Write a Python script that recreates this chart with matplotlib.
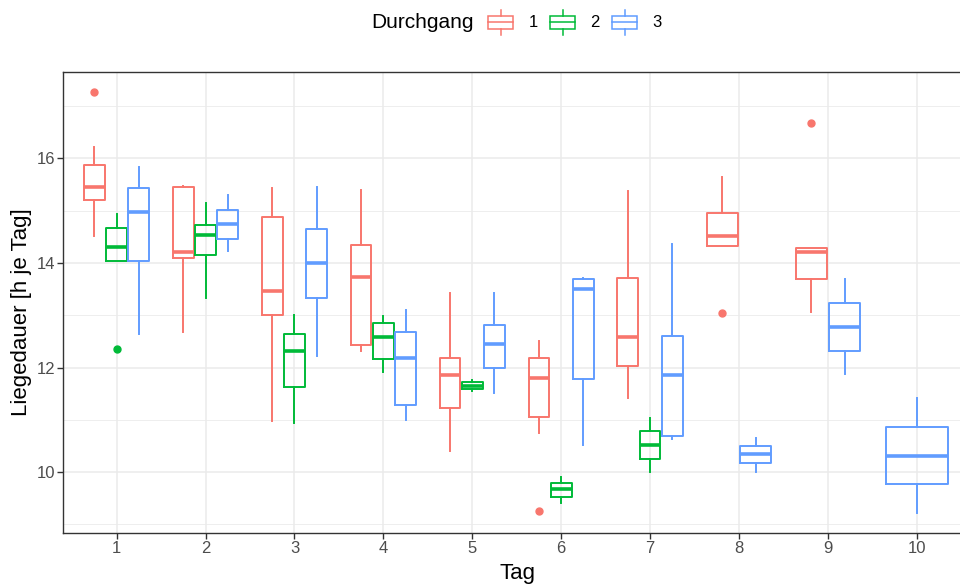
import matplotlib
matplotlib.use("Agg")
import matplotlib.pyplot as plt
from matplotlib.patches import Rectangle
from matplotlib.ticker import MultipleLocator

plt.rcParams['font.family'] = ['Liberation Sans', 'DejaVu Sans']

# ---------------- data ----------------
days = [1, 2, 3, 4, 5, 6, 7, 8, 9, 10]
groups = ['1', '2', '3']
colors = ['#F8766D', '#00BA38', '#619CFF']

g1_days = [1, 2, 3, 4, 5, 6, 7, 8, 9]
g1_whislo = [14.51, 12.67, 10.98, 12.32, 10.40, 10.74, 11.41, 14.33, 13.06]
g1_q1 = [15.20, 14.09, 13.00, 12.43, 11.23, 11.06, 12.03, 14.33, 13.69]
g1_med = [15.45, 14.21, 13.46, 13.74, 11.86, 11.79, 12.59, 14.51, 14.21]
g1_q3 = [15.88, 15.45, 14.88, 14.34, 12.19, 12.19, 13.72, 14.95, 14.29]
g1_whishi = [16.21, 15.48, 15.43, 15.39, 13.42, 12.51, 15.37, 15.64, 14.29]
g1_fliers = {1: [17.27], 6: [9.26], 8: [13.05], 9: [16.68]}

g2_days = [1, 2, 3, 4, 5, 6, 7]
g2_whislo = [14.03, 13.33, 10.93, 11.91, 11.56, 9.40, 10.00]
g2_q1 = [14.04, 14.15, 11.63, 12.17, 11.59, 9.53, 10.25]
g2_med = [14.30, 14.54, 12.32, 12.59, 11.65, 9.67, 10.52]
g2_q3 = [14.67, 14.72, 12.65, 12.86, 11.72, 9.80, 10.79]
g2_whishi = [14.93, 15.14, 13.00, 12.99, 11.76, 9.91, 11.04]
g2_fliers = {1: [12.36]}

g3_days = [1, 2, 3, 4, 5, 6, 7, 8, 9, 10]
g3_whislo = [12.65, 14.23, 12.22, 11.00, 11.51, 10.52, 10.63, 10.01, 11.88, 9.22]
g3_q1 = [14.04, 14.46, 13.33, 11.28, 12.00, 11.78, 10.69, 10.17, 12.32, 9.77]
g3_med = [14.97, 14.74, 13.99, 12.19, 12.45, 13.50, 11.86, 10.34, 12.77, 10.31]
g3_q3 = [15.43, 15.01, 14.64, 12.67, 12.81, 13.69, 12.61, 10.50, 13.23, 10.87]
g3_whishi = [15.84, 15.29, 15.46, 13.10, 13.43, 13.72, 14.37, 10.66, 13.69, 11.41]
g3_fliers = {}

series = [
    (g1_days, g1_whislo, g1_q1, g1_med, g1_q3, g1_whishi, g1_fliers),
    (g2_days, g2_whislo, g2_q1, g2_med, g2_q3, g2_whishi, g2_fliers),
    (g3_days, g3_whislo, g3_q1, g3_med, g3_q3, g3_whishi, g3_fliers),
]

# ---------------- figure ----------------
W, H = 960, 584
fig = plt.figure(figsize=(W / 100, H / 100), dpi=100)
ax_left, ax_right_px, ax_top, ax_bot = 63.3, 63.3 + 10.2 * 88.9, 71.7, 533.3
ax = fig.add_axes([ax_left / W, (H - ax_bot) / H,
                   (ax_right_px - ax_left) / W, (ax_bot - ax_top) / H])

# presence of groups per day for dodging
present = {d: [gi for gi, s in enumerate(series) if d in s[0]] for d in days}

for gi, (gd, wlo, q1, med, q3, whi, fl) in enumerate(series):
    col = colors[gi]
    stats, pos, widths = [], [], []
    for k, d in enumerate(gd):
        n = len(present[d])
        idx = present[d].index(gi)
        off = (idx - (n - 1) / 2) * 0.75 / n
        pos.append(d + off)
        widths.append(0.7 / n)
        stats.append(dict(whislo=wlo[k], q1=q1[k], med=med[k], q3=q3[k],
                          whishi=whi[k], fliers=fl.get(d, [])))
    ax.bxp(stats, positions=pos, widths=widths, showcaps=False,
           boxprops=dict(color=col, linewidth=1.4),
           whiskerprops=dict(color=col, linewidth=1.4),
           medianprops=dict(color=col, linewidth=2.6, solid_capstyle='butt'),
           flierprops=dict(marker='o', markerfacecolor=col, markeredgecolor=col,
                           markersize=5, linestyle='none'),
           manage_ticks=False, zorder=3)

ax.set_xlim(0.4, 10.6)
ax.set_ylim(8.83, 17.656)
ax.set_xticks(days)
ax.set_xticklabels([str(d) for d in days])
ax.set_yticks([10, 12, 14, 16])
ax.set_yticks([9, 11, 13, 15, 17], minor=True)
ax.grid(which='major', color='#EBEBEB', linewidth=1.1, zorder=0)
ax.grid(which='minor', axis='y', color='#EBEBEB', linewidth=0.6, zorder=0)
ax.set_axisbelow(True)
ax.tick_params(which='major', length=4, width=1.0, color='#333333',
               labelsize=12, labelcolor='#4D4D4D', pad=1.5)
ax.tick_params(which='minor', length=0)
for sp in ax.spines.values():
    sp.set_color('#333333')
    sp.set_linewidth(1.0)

fig.text(517.5 / W, 1 - 573 / H, 'Tag', ha='center', va='center', fontsize=16)
fig.text(22 / W, 1 - 312 / H, 'Liegedauer [h je Tag]', ha='center', va='center',
         rotation=90, fontsize=16)

# ---------------- legend (drawn in pixel coordinates) ----------------
lax = fig.add_axes([0, 0, 1, 1], zorder=5)
lax.set_xlim(0, W)
lax.set_ylim(H, 0)
lax.axis('off')
lax.text(371.7, 22, 'Durchgang', ha='left', va='center', fontsize=15)
key_x = [488.3, 550.3, 612.3]
lab_x = [528.5, 590.5, 652.5]
for gi, g in enumerate(groups):
    x0 = key_x[gi]
    xc = x0 + 12.5
    lax.add_patch(Rectangle((x0, 15.7), 25, 13.3, fill=False,
                            edgecolor=colors[gi], linewidth=1.1))
    lax.plot([x0, x0 + 25], [22.3, 22.3], color=colors[gi], linewidth=1.1)
    lax.plot([xc, xc], [10, 15.7], color=colors[gi], linewidth=1.1)
    lax.plot([xc, xc], [29, 35], color=colors[gi], linewidth=1.1)
    lax.text(lab_x[gi], 22.5, g, ha='left', va='center', fontsize=12)

fig.savefig('out.png', dpi=100)
